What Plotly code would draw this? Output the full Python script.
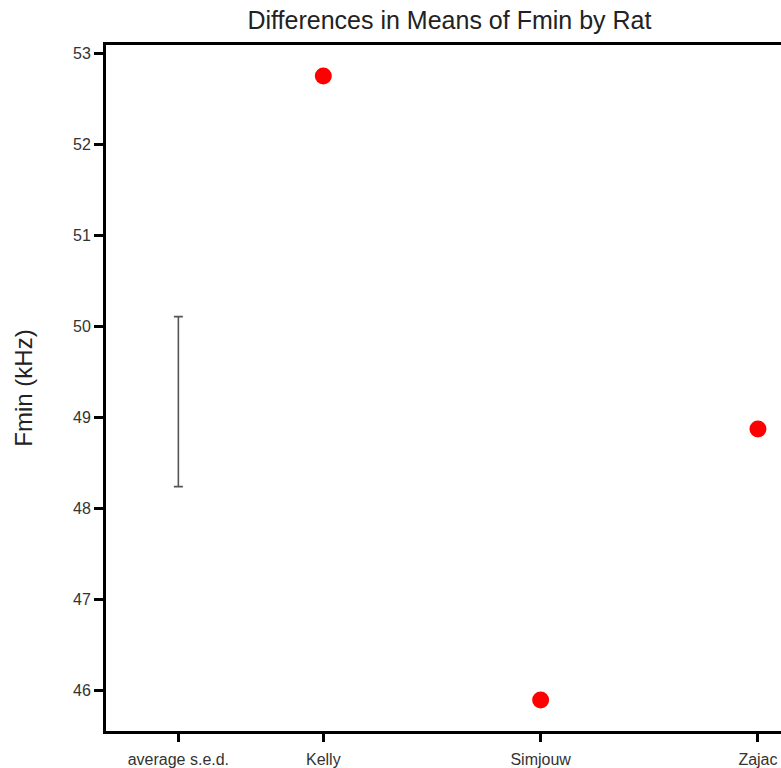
import plotly.graph_objects as go

rats = ["Kelly", "Simjouw", "Zajac"]
rat_pos = [1, 2, 3]
fmin_means = [52.75, 45.89, 48.87]

sed_label = "average s.e.d."
sed_pos = 0.333
sed_center = 49.17
sed_value = 1.868

tick_vals = [sed_pos] + rat_pos
tick_text = [sed_label] + rats

fig = go.Figure()
fig.add_trace(go.Scatter(
    x=[sed_pos], y=[sed_center], mode="markers",
    marker=dict(size=1, color="rgba(0,0,0,0)"),
    error_y=dict(type="data", array=[sed_value / 2], symmetric=True,
                 color="#555555", thickness=1.6, width=4.5),
    showlegend=False, hoverinfo="skip"))
fig.add_trace(go.Scatter(
    x=rat_pos, y=fmin_means, mode="markers",
    marker=dict(size=17, color="#ff0000"),
    showlegend=False))

fig.update_layout(
    width=781, height=768,
    margin=dict(l=106, r=0, t=45, b=37),
    paper_bgcolor="white", plot_bgcolor="white",
    font=dict(family="Liberation Sans, Arial, sans-serif", color="#000000"),
    title=dict(text="Differences in Means of Fmin by Rat", x=0.5755, xanchor="center",
               y=0.974, yanchor="middle", font=dict(size=25, color="#222222")),
    xaxis=dict(range=[0, 3.106], tickvals=tick_vals, ticktext=tick_text,
               showgrid=False, zeroline=False, showline=True, linecolor="black",
               linewidth=3, mirror=True, ticks="outside", ticklen=8, tickwidth=3,
               tickcolor="black", ticklabelstandoff=4,
               tickfont=dict(size=16, color="#333333")),
    yaxis=dict(range=[45.55, 53.09], tickvals=[46, 47, 48, 49, 50, 51, 52, 53],
               showgrid=False, zeroline=False, showline=True, linecolor="black",
               linewidth=3, ticks="outside", ticklen=9, tickwidth=3,
               tickcolor="black", tickfont=dict(size=16, color="#333333"),
               title=dict(text="Fmin (kHz)", font=dict(size=24, color="#222222"),
                          standoff=34)),
)

fig.write_html("out.html", config={"displayModeBar": False},
               post_script="document.body.style.margin='0';")
